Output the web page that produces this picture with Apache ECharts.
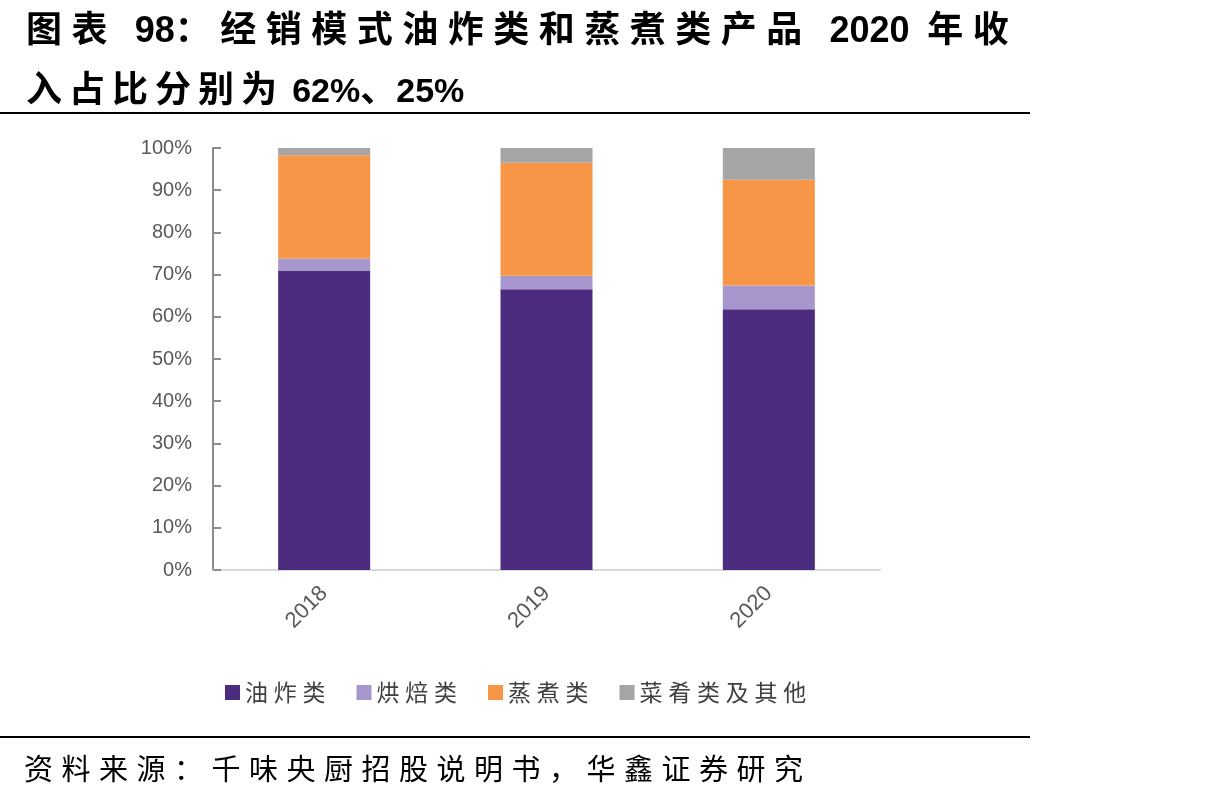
<!DOCTYPE html>
<html>
<head>
<meta charset="utf-8">
<script src="https://cdn.jsdelivr.net/npm/echarts@6/dist/echarts.min.js"></script>
<style>
  html, body { margin: 0; padding: 0; background: #fff; }
  #wrap { position: relative; width: 1220px; height: 797px; }
  #main { width: 1220px; height: 797px; }
  .txt {
    position: absolute;
    left: 26px;
    font-family: "Noto Sans CJK SC", "Noto Sans", sans-serif;
    color: #000;
    white-space: nowrap;
  }
  .title { font-size: 36px; font-weight: bold; line-height: 50px; height: 50px; }
  .title .num { font-family: "Liberation Sans", Arial, sans-serif; letter-spacing: 0; line-height: 0; }
  .title .tight { letter-spacing: 0; }
  #title1 { top: 1px; letter-spacing: 9.5px; }
  #title1 .num { font-size: 36px; }
  #title2 { top: 61px; letter-spacing: 7px; }
  #title2 .num { font-size: 34px; }
  #source { top: 747px; font-size: 29px; line-height: 40px; letter-spacing: 8.5px; left: 24px; }
</style>
</head>
<body>
<div id="wrap">
  <div id="main"></div>
  <div class="txt title" id="title1">图表 <span class="num">98</span>：经销模式油炸类和蒸煮类产品 <span class="num">2020</span> 年收</div>
  <div class="txt title" id="title2">入占比分别为<span class="tight"> </span><span class="num">62%</span><span class="tight">、</span><span class="num">25%</span></div>
  <div class="txt" id="source">资料来源：千味央厨招股说明书，华鑫证券研究</div>
</div>
<script>
// 数据
const years = ['2018', '2019', '2020'];
const fried = [71.0, 66.5, 61.8];      // 油炸类
const baked = [2.8, 3.2, 5.6];         // 烘焙类
const steamed = [24.5, 26.8, 25.1];    // 蒸煮类
const others = [1.7, 3.5, 7.5];        // 菜肴类及其他
const yTicks = ['0%', '10%', '20%', '30%', '40%', '50%', '60%', '70%', '80%', '90%', '100%'];

const cjk = '"Noto Sans CJK SC", "Noto Sans", sans-serif';
const chart = echarts.init(document.getElementById('main'));

function barSeries(name, data, color) {
  return {
    name: name,
    type: 'bar',
    stack: 'total',
    barWidth: 92,
    data: data,
    itemStyle: { color: color },
    emphasis: { disabled: true }
  };
}

const option = {
  animation: false,
  backgroundColor: '#fff',
  graphic: [
    { type: 'line', shape: { x1: 0, y1: 113, x2: 1030, y2: 113 }, style: { stroke: '#000', lineWidth: 2 } },
    { type: 'line', shape: { x1: 0, y1: 737, x2: 1030, y2: 737 }, style: { stroke: '#000', lineWidth: 2 } }
  ],
  legend: {
    top: 676,
    left: 220,
    itemWidth: 15,
    itemHeight: 15,
    itemGap: 31,
    icon: 'rect',
    textStyle: { fontFamily: cjk, fontSize: 23, color: '#404040' },
    // 字间距
    formatter: function (name) { return name.split('').join('\u2005'); },
    data: ['油炸类', '烘焙类', '蒸煮类', '菜肴类及其他']
  },
  grid: {
    left: 213,
    right: 340,
    top: 148,
    bottom: 227,
    containLabel: false
  },
  xAxis: {
    type: 'category',
    data: years,
    axisLine: { lineStyle: { color: '#d9d9d9', width: 2 } },
    axisTick: { show: false },
    axisLabel: {
      rotate: 45,
      margin: 20,
      fontFamily: 'Liberation Sans, Arial, sans-serif',
      fontSize: 22,
      color: '#595959'
    }
  },
  yAxis: {
    type: 'value',
    min: 0,
    max: 100,
    interval: 10,
    axisLine: { show: true, lineStyle: { color: '#8c8c8c', width: 2 } },
    axisTick: { show: true, inside: true, length: 8, lineStyle: { color: '#8c8c8c', width: 2 } },
    splitLine: { show: false },
    axisLabel: {
      margin: 21,
      fontFamily: 'Liberation Sans, Arial, sans-serif',
      fontSize: 20,
      color: '#595959',
      formatter: function (v) { return yTicks[Math.round(v / 10)]; }
    }
  },
  series: [
    barSeries('油炸类', fried, '#4b2c7f'),
    barSeries('烘焙类', baked, '#a797cc'),
    barSeries('蒸煮类', steamed, '#f79646'),
    barSeries('菜肴类及其他', others, '#a5a5a5')
  ]
};

chart.setOption(option);
</script>
</body>
</html>
